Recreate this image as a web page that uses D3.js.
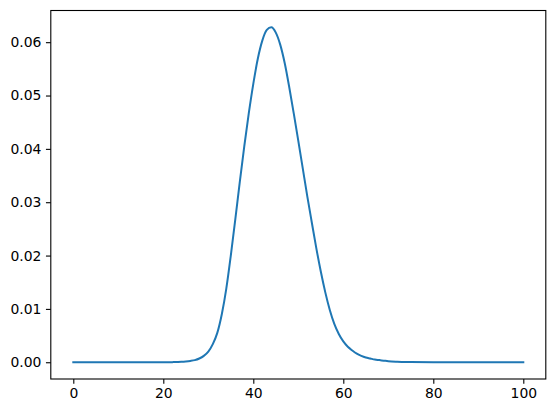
<!DOCTYPE html>
<html>
<head>
	<meta charset="utf-8">
	<title>Density curve</title>
	<script src="https://d3js.org/d3.v7.min.js"></script>
	<style>
		body { margin: 0; background: #fff; }
		text { font-family: "DejaVu Sans", sans-serif; }
	</style>
</head>
<body>
	<div id="chart"></div>
	<script>
		// values
		var xs = [0, 5, 10, 15, 20, 22, 24, 25, 26, 27, 28, 29, 30, 31, 32, 33, 34, 35, 36, 37, 38, 39,
			40, 41, 42, 43, 44, 45, 46, 47, 48, 49, 50, 51, 52, 53, 54, 55, 56, 57, 58, 59,
			60, 61, 62, 63, 64, 65, 66, 67, 68, 69, 70, 72, 75, 80, 85, 90, 95, 100];
		var ys = [0, 0, 0, 0, 0, 0.00002, 0.00008, 0.00015, 0.00025, 0.0004, 0.0007, 0.0012, 0.0020, 0.0034, 0.0055, 0.0090, 0.0138, 0.0200, 0.0268, 0.0338, 0.0405, 0.0467,
			0.0522, 0.0569, 0.0603, 0.0623, 0.0628, 0.0618, 0.0595, 0.0560, 0.0515, 0.0466, 0.0415, 0.0363, 0.0311, 0.0262, 0.0214, 0.0170, 0.0131, 0.0098, 0.0072, 0.0053,
			0.0039, 0.0029, 0.0022, 0.0016, 0.0012, 0.0009, 0.0007, 0.0005, 0.0004, 0.0003, 0.0002, 0.0001, 0.00004, 0, 0, 0, 0, 0];
		var xTicks = [0, 20, 40, 60, 80, 100];
		var yTicks = [0, 0.01, 0.02, 0.03, 0.04, 0.05, 0.06];

		var w = 556, h = 413;
		var margin = {top: 10.5, right: 10.2, bottom: 34, left: 50.8};
		var iw = w - margin.left - margin.right;
		var ih = h - margin.top - margin.bottom;

		var data = xs.map(function(x, i) { return {x: x, y: ys[i]}; });

		// matplotlib-like 5% padding around the data
		var xmin = d3.min(xs), xmax = d3.max(xs);
		var ymin = d3.min(ys), ymax = d3.max(ys);
		var xpad = (xmax - xmin) * 0.05, ypad = (ymax - ymin) * 0.05;

		var x = d3.scaleLinear().domain([xmin - xpad, xmax + xpad]).range([0, iw]);
		var y = d3.scaleLinear().domain([ymin - ypad, ymax + ypad]).range([ih, 0]);

		var svg = d3.select("#chart").append("svg")
			.attr("width", w)
			.attr("height", h);

		var g = svg.append("g")
			.attr("transform", "translate(" + margin.left + "," + margin.top + ")");

		// the curve
		var line = d3.line()
			.x(function(d) { return x(d.x); })
			.y(function(d) { return y(d.y); })
			.curve(d3.curveMonotoneX);

		g.append("path")
			.datum(data)
			.attr("fill", "none")
			.attr("stroke", "#1f77b4")
			.attr("stroke-width", 2)
			.attr("stroke-linejoin", "round")
			.attr("stroke-linecap", "square")
			.attr("d", line);

		// axes
		var tick = 4.86;
		var xAxis = g.append("g")
			.attr("transform", "translate(0," + ih + ")")
			.call(d3.axisBottom(x).tickValues(xTicks).tickSize(tick).tickPadding(4.5).tickSizeOuter(0));
		var yAxis = g.append("g")
			.call(d3.axisLeft(y).tickValues(yTicks).tickFormat(d3.format(".2f")).tickSize(tick).tickPadding(4.5).tickSizeOuter(0));

		[xAxis, yAxis].forEach(function(a) {
			a.select(".domain").remove();
			a.selectAll("line").attr("stroke", "#000").attr("stroke-width", 1.1);
			a.selectAll("text").attr("fill", "#000").style("font-size", "13.9px");
		});

		// frame
		g.append("rect")
			.attr("x", 0).attr("y", 0)
			.attr("width", iw).attr("height", ih)
			.attr("fill", "none")
			.attr("stroke", "#000")
			.attr("stroke-width", 1.1);
	</script>
</body>
</html>
